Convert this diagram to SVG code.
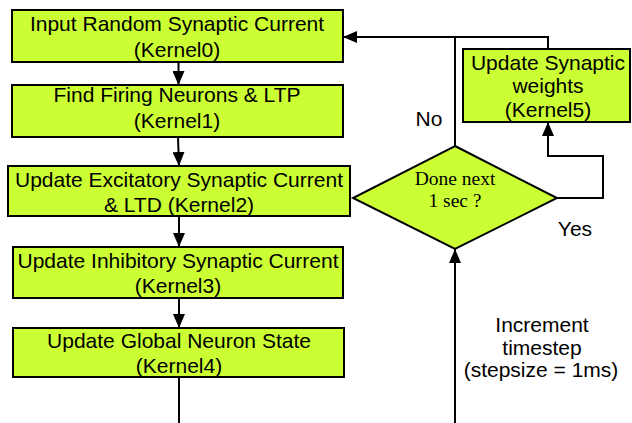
<svg xmlns="http://www.w3.org/2000/svg" width="632" height="423" viewBox="0 0 632 423">
<style>
.box{fill:#CCFF33;stroke:#000;stroke-width:2}
.t{font-family:"Liberation Sans",Arial,sans-serif;font-size:21px;fill:#000;text-anchor:middle}
.s{font-family:"Liberation Serif","Times New Roman",serif;font-size:19.5px;fill:#000;text-anchor:middle}
.c{fill:none;stroke:#000;stroke-width:2}
</style>
<defs>
<marker id="ah" viewBox="0 0 14 12" refX="14" refY="6" markerWidth="14" markerHeight="12" markerUnits="userSpaceOnUse" orient="auto">
<path d="M0,0 L14,6 L0,12 z" fill="#000"/>
</marker>
</defs>
<rect width="632" height="423" fill="#fff"/>
<g id="connectors">
<path class="c" d="M178.5,62 V85" marker-end="url(#ah)"/>
<path class="c" d="M178,137 L179,166" marker-end="url(#ah)"/>
<path class="c" d="M179,216 V247" marker-end="url(#ah)"/>
<path class="c" d="M179,298 V328" marker-end="url(#ah)"/>
<path class="c" d="M179,377 V423"/>
<path class="c" d="M455,423 V249" marker-end="url(#ah)"/>
<path class="c" d="M455,146 V37"/>
<path class="c" d="M548,49 V37 H343" marker-end="url(#ah)"/>
<path class="c" d="M557,198 H603 V156 H548 V122" marker-end="url(#ah)"/>
</g>
<g id="kernel0">
<rect class="box" x="12" y="10" width="331" height="52"/>
<text class="t" x="177" y="31">Input Random Synaptic Current</text>
<text class="t" x="177" y="57">(Kernel0)</text>
</g>
<g id="kernel1">
<rect class="box" x="12" y="85" width="331" height="52"/>
<text class="t" x="177" y="102">Find Firing Neurons &amp; LTP</text>
<text class="t" x="177" y="128">(Kernel1)</text>
</g>
<g id="kernel2">
<rect class="box" x="8" y="166" width="342" height="50"/>
<text class="t" x="179" y="187">Update Excitatory Synaptic Current</text>
<text class="t" x="179" y="212">&amp; LTD (Kernel2)</text>
</g>
<g id="kernel3">
<rect class="box" x="13" y="247" width="330" height="51"/>
<text class="t" x="178" y="268">Update Inhibitory Synaptic Current</text>
<text class="t" x="178" y="293">(Kernel3)</text>
</g>
<g id="kernel4">
<rect class="box" x="13" y="328" width="331" height="49"/>
<text class="t" x="179" y="348">Update Global Neuron State</text>
<text class="t" x="179" y="373">(Kernel4)</text>
</g>
<g id="kernel5">
<rect class="box" x="463" y="49" width="167" height="73"/>
<text class="t" x="548" y="70">Update Synaptic</text>
<text class="t" x="548" y="93">weights</text>
<text class="t" x="548" y="117">(Kernel5)</text>
</g>
<g id="decision">
<polygon class="box" points="455,146 557,198 455,249 353,198"/>
<text class="s" x="455" y="185">Done next</text>
<text class="s" x="455" y="207">1 sec ?</text>
</g>
<g id="labels">
<text class="t" x="429" y="126">No</text>
<text class="t" x="575" y="236">Yes</text>
<text class="t" x="542" y="332">Increment</text>
<text class="t" x="542" y="355">timestep</text>
<text class="t" x="541" y="377">(stepsize = 1ms)</text>
</g>
</svg>
